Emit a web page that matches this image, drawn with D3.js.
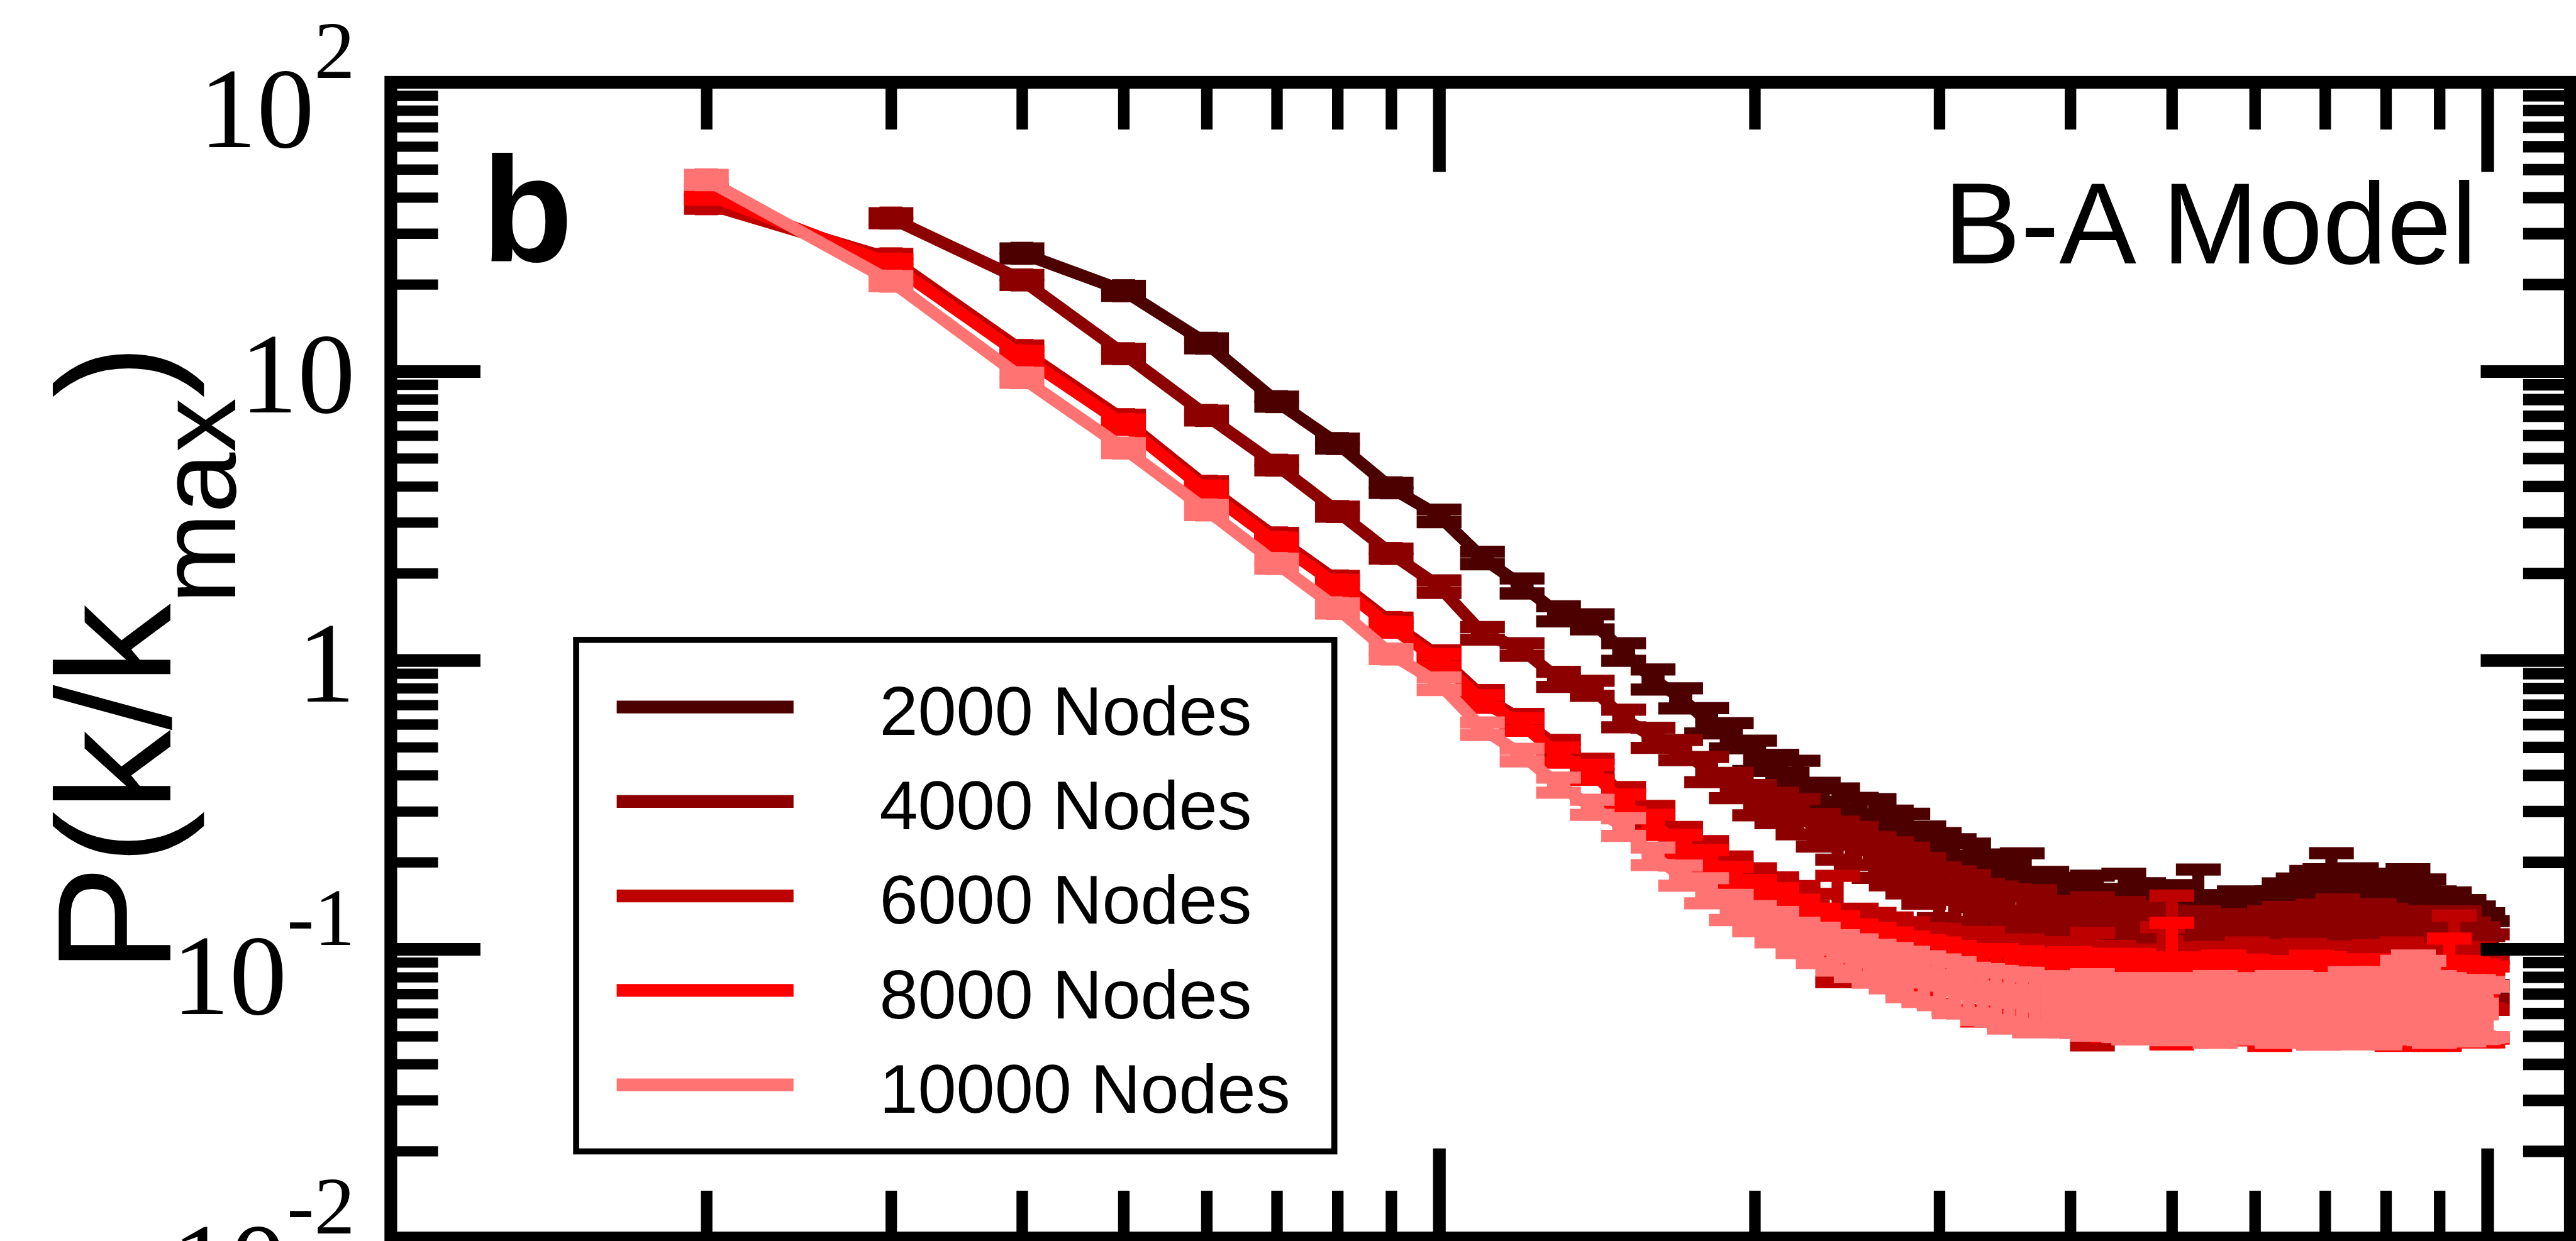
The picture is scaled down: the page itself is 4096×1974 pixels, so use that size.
<!DOCTYPE html>
<html>
<head>
<meta charset="utf-8">
<script src="https://cdn.jsdelivr.net/npm/d3@7"></script>
<style>
  html, body { margin: 0; padding: 0; background: #fff; overflow: hidden; }
  svg { display: block; }
</style>
</head>
<body>
<div id="chart"></div>
<script>
// k/kmax bins (x values)
var kRatio = [0.02,0.03,0.04,0.05,0.06,0.07,0.08,0.09,
  0.10,0.11,0.12,0.13,0.14,0.15,0.16,0.17,0.18,0.19,
  0.20,0.21,0.22,0.23,0.24,0.25,0.26,0.27,0.28,0.29,
  0.30,0.31,0.32,0.33,0.34,0.35,0.36,0.37,0.38,0.39,
  0.40,0.41,0.42,0.43,0.44,0.45,0.46,0.47,0.48,0.49,
  0.50,0.51,0.52,0.53,0.54,0.55,0.56,0.57,0.58,0.59,
  0.60,0.61,0.62,0.63,0.64,0.65,0.66,0.67,0.68,0.69,
  0.70,0.71,0.72,0.73,0.74,0.75,0.76,0.77,0.78,0.79,
  0.80,0.81,0.82,0.83,0.84,0.85,0.86,0.87,0.88,0.89,
  0.90,0.91,0.92,0.93,0.94,0.95,0.96,0.97,0.98,0.99,
  1.00];

// P(k/kmax) per network size
var p2000 = [null,null,25.6,19.0,12.5,7.85,5.62,3.95,
  3.16,2.26,1.81,1.45,1.36,1.07,0.86,0.74,0.62,0.55,
  0.47,0.42,0.39,0.33,0.31,0.29,0.28,0.26,0.245,0.225,
  0.21,0.2,0.19,0.175,0.17,0.16,0.165,0.15,0.148,0.142,
  0.14,0.135,0.138,0.13,0.128,0.135,0.125,0.13,0.122,0.126,
  0.12,0.128,0.118,0.13,0.12,0.115,0.118,0.112,0.12,0.115,
  0.11,0.118,0.112,0.12,0.125,0.118,0.13,0.125,0.135,0.13,
  0.14,0.145,0.135,0.14,0.13,0.138,0.128,0.135,0.13,0.125,
  0.13,0.12,0.128,0.13,0.135,0.125,0.12,0.128,0.118,0.12,
  0.115,0.112,0.118,0.11,0.108,0.112,0.105,0.108,0.102,0.104,
  0.1];
var p4000 = [null,33.9,20.7,11.5,7.03,4.73,3.27,2.34,
  1.8,1.24,1.09,0.86,0.8,0.63,0.54,0.49,0.42,0.37,
  0.33,0.31,0.29,0.26,0.24,0.23,0.21,0.2,0.19,0.175,
  0.16,0.155,0.148,0.14,0.135,0.13,0.125,0.128,0.12,0.118,
  0.115,0.112,0.118,0.11,0.108,0.112,0.105,0.11,0.104,0.108,
  0.102,0.106,0.1,0.104,0.098,0.102,0.105,0.098,0.1,0.096,
  0.102,0.098,0.104,0.1,0.106,0.1,0.104,0.098,0.102,0.108,
  0.1,0.104,0.11,0.102,0.106,0.1,0.108,0.104,0.11,0.102,
  0.106,0.1,0.104,0.098,0.102,0.1,0.104,0.098,0.1,0.096,
  0.098,0.094,0.098,0.094,0.1,0.092,0.095,0.09,0.093,0.088,
  0.09];
var p6000 = [38,24.5,11.8,6.8,4.0,2.65,1.88,1.35,
  1.03,0.75,0.62,0.5,0.43,0.34,0.29,0.245,0.215,0.19,
  0.17,0.158,0.145,0.135,0.128,0.12,0.115,0.11,0.105,0.1,
  0.098,0.095,0.092,0.094,0.09,0.088,0.09,0.086,0.088,0.084,
  0.086,0.082,0.08,0.08,0.084,0.082,0.079,0.083,0.08,0.085,
  0.102,0.082,0.078,0.083,0.08,0.082,0.079,0.083,0.08,0.085,
  0.081,0.078,0.083,0.08,0.086,0.082,0.079,0.084,0.08,0.083,
  0.078,0.082,0.085,0.08,0.084,0.079,0.083,0.08,0.086,0.082,
  0.078,0.083,0.08,0.085,0.081,0.078,0.082,0.079,0.084,0.08,
  0.077,0.081,0.078,0.09,0.08,0.083,0.079,0.082,0.078,0.08,
  0.077];
var p8000 = [41,23.5,11.3,6.55,3.85,2.55,1.82,1.3,
  1.0,0.72,0.6,0.47,0.41,0.32,0.27,0.23,0.2,0.175,
  0.155,0.145,0.13,0.12,0.112,0.105,0.1,0.095,0.092,0.088,
  0.085,0.082,0.08,0.078,0.08,0.076,0.078,0.074,0.076,0.073,
  0.075,0.072,0.074,0.07,0.073,0.071,0.074,0.07,0.072,0.069,
  0.085,0.07,0.072,0.068,0.071,0.069,0.072,0.068,0.07,0.073,
  0.069,0.071,0.068,0.072,0.069,0.071,0.068,0.07,0.073,0.069,
  0.071,0.068,0.07,0.072,0.068,0.071,0.069,0.072,0.068,0.07,
  0.067,0.07,0.068,0.071,0.067,0.07,0.068,0.071,0.067,0.069,
  0.066,0.069,0.08,0.068,0.07,0.067,0.069,0.066,0.068,0.066,
  0.068];
var p10000 = [46,20.5,9.5,5.42,3.31,2.16,1.51,1.05,
  0.83,0.58,0.47,0.37,0.31,0.265,0.21,0.18,0.16,0.14,
  0.128,0.12,0.11,0.104,0.098,0.094,0.09,0.087,0.083,0.08,
  0.078,0.075,0.073,0.071,0.07,0.068,0.069,0.066,0.067,0.065,
  0.066,0.064,0.066,0.063,0.065,0.062,0.064,0.062,0.065,0.063,
  0.062,0.064,0.061,0.063,0.062,0.064,0.061,0.063,0.062,0.064,
  0.061,0.063,0.062,0.064,0.062,0.065,0.062,0.064,0.061,0.063,
  0.062,0.064,0.061,0.063,0.065,0.062,0.064,0.061,0.063,0.065,
  0.062,0.064,0.066,0.07,0.067,0.072,0.068,0.07,0.062,0.064,
  0.062,0.064,0.062,0.063,0.061,0.063,0.062,0.064,0.061,0.063,
  0.062];

// error bars, as a fraction of each value
var e2000 = [null,null,0.04,0.04,0.04,0.04,0.04,0.04,
  0.05,0.05,0.06,0.06,0.06,0.07,0.08,0.08,0.1,0.1,
  0.12,0.12,0.15,0.14,0.16,0.15,0.18,0.16,0.2,0.18,
  0.2,0.2,0.22,0.2,0.25,0.22,0.3,0.22,0.25,0.24,
  0.26,0.25,0.3,0.24,0.26,0.35,0.25,0.3,0.24,0.28,
  0.26,0.3,0.25,0.45,0.28,0.26,0.3,0.25,0.32,0.28,
  0.25,0.3,0.26,0.32,0.35,0.28,0.35,0.3,0.38,0.3,
  0.35,0.48,0.3,0.35,0.3,0.38,0.3,0.35,0.32,0.3,
  0.36,0.3,0.35,0.32,0.4,0.3,0.32,0.36,0.3,0.32,
  0.3,0.3,0.33,0.3,0.28,0.32,0.28,0.3,0.26,0.28,
  0.25];
var e4000 = [null,0.04,0.04,0.04,0.04,0.04,0.04,0.04,
  0.05,0.05,0.05,0.06,0.06,0.07,0.08,0.08,0.1,0.1,
  0.12,0.12,0.14,0.13,0.15,0.15,0.16,0.17,0.18,0.18,
  0.2,0.2,0.22,0.2,0.22,0.24,0.22,0.25,0.22,0.24,
  0.25,0.22,0.28,0.24,0.25,0.3,0.24,0.28,0.25,0.26,
  0.28,0.25,0.26,0.3,0.24,0.28,0.26,0.25,0.3,0.26,
  0.28,0.25,0.3,0.26,0.32,0.28,0.3,0.26,0.28,0.32,
  0.28,0.3,0.35,0.28,0.3,0.26,0.32,0.28,0.3,0.28,
  0.3,0.26,0.3,0.28,0.3,0.26,0.3,0.28,0.26,0.28,
  0.3,0.28,0.3,0.26,0.35,0.28,0.3,0.26,0.28,0.26,
  0.25];
var e6000 = [0.04,0.04,0.04,0.04,0.04,0.04,0.04,0.04,
  0.05,0.05,0.05,0.06,0.06,0.07,0.08,0.08,0.1,0.1,
  0.12,0.12,0.14,0.15,0.4,0.15,0.16,0.17,0.18,0.18,
  0.2,0.2,0.2,0.22,0.2,0.22,0.2,0.22,0.2,0.22,
  0.2,0.22,0.42,0.2,0.22,0.2,0.22,0.2,0.22,0.4,
  0.5,0.22,0.2,0.22,0.2,0.24,0.2,0.22,0.2,0.24,
  0.2,0.22,0.2,0.24,0.2,0.22,0.2,0.24,0.2,0.22,
  0.2,0.24,0.2,0.22,0.2,0.24,0.2,0.22,0.2,0.24,
  0.2,0.22,0.2,0.24,0.2,0.22,0.2,0.24,0.2,0.22,
  0.2,0.22,0.2,0.45,0.2,0.22,0.2,0.24,0.2,0.22,
  0.2];
var e8000 = [0.04,0.04,0.04,0.04,0.04,0.04,0.04,0.04,
  0.05,0.05,0.05,0.06,0.06,0.07,0.08,0.08,0.1,0.1,
  0.12,0.12,0.14,0.15,0.16,0.16,0.18,0.2,0.2,0.22,
  0.24,0.25,0.24,0.28,0.25,0.28,0.26,0.3,0.26,0.28,
  0.3,0.26,0.3,0.28,0.32,0.28,0.3,0.26,0.3,0.28,
  0.45,0.28,0.3,0.26,0.3,0.28,0.32,0.28,0.3,0.26,
  0.3,0.28,0.32,0.26,0.3,0.28,0.3,0.26,0.3,0.28,
  0.32,0.28,0.3,0.26,0.3,0.28,0.32,0.28,0.3,0.26,
  0.3,0.28,0.32,0.26,0.3,0.28,0.3,0.26,0.3,0.28,
  0.3,0.28,0.36,0.26,0.3,0.28,0.3,0.26,0.3,0.28,
  0.28];
var e10000 = [0.04,0.04,0.04,0.04,0.04,0.04,0.04,0.04,
  0.05,0.05,0.05,0.06,0.06,0.07,0.07,0.08,0.1,0.1,
  0.1,0.12,0.12,0.14,0.14,0.15,0.15,0.16,0.18,0.18,
  0.18,0.2,0.18,0.2,0.2,0.22,0.2,0.22,0.2,0.2,
  0.22,0.2,0.24,0.2,0.22,0.2,0.24,0.2,0.22,0.2,
  0.22,0.24,0.2,0.22,0.2,0.26,0.2,0.22,0.2,0.24,
  0.2,0.22,0.2,0.26,0.2,0.24,0.2,0.22,0.2,0.26,
  0.2,0.24,0.2,0.22,0.28,0.2,0.24,0.2,0.22,0.28,
  0.2,0.24,0.2,0.3,0.22,0.32,0.24,0.3,0.22,0.26,
  0.2,0.24,0.2,0.22,0.2,0.24,0.2,0.22,0.2,0.22,
  0.2];

var seriesNames = ["2000 Nodes", "4000 Nodes", "6000 Nodes", "8000 Nodes", "10000 Nodes"];
var seriesColors = ["#4d0000", "#8c0000", "#bf0000", "#ff0000", "#ff7373"];
var seriesValues = [p2000, p4000, p6000, p8000, p10000];
var seriesErrors = [e2000, e4000, e6000, e8000, e10000];

// axis ticks
var xMajor = [0.1, 1];
var xMinor = [0.02,0.03,0.04,0.05,0.06,0.07,0.08,0.09,0.2,0.3,0.4,0.5,0.6,0.7,0.8,0.9];
var yMajor = [0.1, 1, 10];
var yMinor = [0.02,0.03,0.04,0.05,0.06,0.07,0.08,0.09,0.2,0.3,0.4,0.5,0.6,0.7,0.8,0.9,
  2,3,4,5,6,7,8,9,20,30,40,50,60,70,80,90];
var yLabelVals = [100, 10, 1, 0.1, 0.01];
var yLabelBase = ["10", "10", "1", "10", "10"];
var yLabelExp = ["2", "", "", "-1", "-2"];

// drawing in the reference's own pixel space, scaled down by the viewBox
var W = 4253, H = 2050;
var margin = {left: 645, right: 4244, top: 136, bottom: 2045};

var svg = d3.select("#chart").append("svg")
  .attr("width", 4096)
  .attr("height", 1974)
  .attr("viewBox", "0 0 " + W + " " + H);

svg.append("rect").attr("width", W).attr("height", H).attr("fill", "#fff");

var x = d3.scaleLog().domain([0.01, 1.2]).range([margin.left, margin.right]);
var y = d3.scaleLog().domain([0.01, 100]).range([margin.bottom, margin.top]);

var line = d3.line()
  .x(function(d) { return x(d.k); })
  .y(function(d) { return y(d.p); });

var capHalf = 37, markHalf = 19;

var plot = svg.append("g").attr("class", "plot");

seriesValues.forEach(function(vals, s) {
  var color = seriesColors[s];
  var pts = kRatio.map(function(k, i) {
    return {k: k, p: vals[i], e: vals[i] == null ? 0 : vals[i] * seriesErrors[s][i]};
  }).filter(function(d) { return d.p != null; });

  var g = plot.append("g").attr("class", "set");

  g.append("path")
    .datum(pts)
    .attr("d", line)
    .attr("fill", "none")
    .attr("stroke", color)
    .attr("stroke-width", 20)
    .attr("stroke-linejoin", "round");

  g.selectAll("rect.sym")
    .data(pts)
    .enter().append("rect")
    .attr("class", "sym")
    .attr("x", function(d) { return x(d.k) - markHalf; })
    .attr("y", function(d) { return y(d.p) - markHalf; })
    .attr("width", markHalf * 2)
    .attr("height", markHalf * 2)
    .attr("fill", color);

  var eb = g.selectAll("g.err")
    .data(pts)
    .enter().append("g")
    .attr("class", "err")
    .attr("stroke", color)
    .attr("stroke-width", 20);

  eb.append("line")
    .attr("x1", function(d) { return x(d.k); })
    .attr("x2", function(d) { return x(d.k); })
    .attr("y1", function(d) { return y(d.p + d.e); })
    .attr("y2", function(d) { return y(d.p - d.e); });
  eb.append("line")
    .attr("x1", function(d) { return x(d.k) - capHalf; })
    .attr("x2", function(d) { return x(d.k) + capHalf; })
    .attr("y1", function(d) { return y(d.p + d.e); })
    .attr("y2", function(d) { return y(d.p + d.e); });
  eb.append("line")
    .attr("x1", function(d) { return x(d.k) - capHalf; })
    .attr("x2", function(d) { return x(d.k) + capHalf; })
    .attr("y1", function(d) { return y(d.p - d.e); })
    .attr("y2", function(d) { return y(d.p - d.e); });
});

// inward ticks on all four sides
function ticks(axis, transform, width) {
  var g = svg.append("g").attr("transform", transform).call(axis);
  g.select(".domain").remove();
  g.selectAll("text").remove();
  g.selectAll(".tick line").attr("stroke", "#000").attr("stroke-width", width);
}
var minorLen = 78, majorLen = 148;
ticks(d3.axisTop(x).tickValues(xMinor).tickSize(-minorLen).tickFormat(""), "translate(0," + margin.top + ")", 19);
ticks(d3.axisTop(x).tickValues(xMajor).tickSize(-majorLen).tickFormat(""), "translate(0," + margin.top + ")", 21);
ticks(d3.axisBottom(x).tickValues(xMinor).tickSize(-minorLen).tickFormat(""), "translate(0," + margin.bottom + ")", 19);
ticks(d3.axisBottom(x).tickValues(xMajor).tickSize(-majorLen).tickFormat(""), "translate(0," + margin.bottom + ")", 21);
ticks(d3.axisLeft(y).tickValues(yMinor).tickSize(-minorLen).tickFormat(""), "translate(" + margin.left + ",0)", 17);
ticks(d3.axisLeft(y).tickValues(yMajor).tickSize(-majorLen).tickFormat(""), "translate(" + margin.left + ",0)", 21);
ticks(d3.axisRight(y).tickValues(yMinor).tickSize(-minorLen).tickFormat(""), "translate(" + margin.right + ",0)", 19);
ticks(d3.axisRight(y).tickValues(yMajor).tickSize(-majorLen).tickFormat(""), "translate(" + margin.right + ",0)", 21);

// frame
svg.append("rect")
  .attr("x", margin.left)
  .attr("y", margin.top)
  .attr("width", margin.right - margin.left)
  .attr("height", margin.bottom - margin.top)
  .attr("fill", "none")
  .attr("stroke", "#000")
  .attr("stroke-width", 21);

// y tick labels
var yLab = svg.append("g")
  .attr("font-family", "'Liberation Serif', 'Times New Roman', serif")
  .attr("fill", "#000");
yLabelVals.forEach(function(v, i) {
  var t = yLab.append("text")
    .attr("x", 586)
    .attr("text-anchor", "end")
    .attr("font-size", 190);
  if (yLabelExp[i]) {
    t.attr("y", y(v) + 107);
    t.append("tspan").text(yLabelBase[i]);
    t.append("tspan").attr("dy", -114).attr("font-size", 135).text(yLabelExp[i]);
  } else {
    t.attr("y", y(v) + 68).text(yLabelBase[i]);
  }
});

// y axis title
var yt = svg.append("text")
  .attr("transform", "translate(281,1608) rotate(-90)")
  .attr("font-family", "'Liberation Sans', Arial, sans-serif")
  .attr("font-size", 268)
  .attr("fill", "#000");
yt.append("tspan").text("P(k/k");
yt.append("tspan").attr("dy", 107).attr("font-size", 180).text("max");
yt.append("tspan").attr("dy", -107).text(")");

// panel letter and model name
svg.append("text")
  .attr("x", 795).attr("y", 431)
  .attr("font-family", "'Liberation Sans', Arial, sans-serif")
  .attr("font-weight", "bold")
  .attr("font-size", 247)
  .text("b");
svg.append("text")
  .attr("x", 4090).attr("y", 435)
  .attr("text-anchor", "end")
  .attr("font-family", "'Liberation Sans', Arial, sans-serif")
  .attr("font-size", 191)
  .text("B-A Model");

// legend
var legend = svg.append("g").attr("class", "legend");
legend.append("rect")
  .attr("x", 951).attr("y", 1057)
  .attr("width", 1252).attr("height", 845)
  .attr("fill", "#fff")
  .attr("stroke", "#000")
  .attr("stroke-width", 10);
var rowY = d3.scalePoint().domain(seriesNames).range([1168, 1792]);
seriesNames.forEach(function(name, i) {
  legend.append("line")
    .attr("x1", 1018).attr("x2", 1310)
    .attr("y1", rowY(name)).attr("y2", rowY(name))
    .attr("stroke", seriesColors[i])
    .attr("stroke-width", 21);
  legend.append("text")
    .attr("x", 1452).attr("y", rowY(name) + 46)
    .attr("font-family", "'Liberation Sans', Arial, sans-serif")
    .attr("font-size", 114)
    .text(name);
});
</script>
</body>
</html>
